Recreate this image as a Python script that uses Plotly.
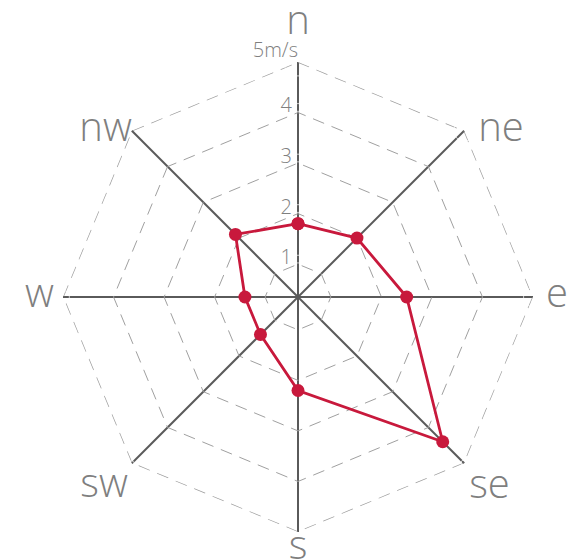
import plotly.graph_objects as go

# Mean wind speed (m/s) by compass direction
directions = ["n", "ne", "e", "se", "s", "sw", "w", "nw"]
speeds = [1.8, 2.0, 2.5, 4.4, 2.2, 1.4, 1.4, 2.1]

# Radial scale
ring_values = [1, 2, 3, 4]
outer_value = 5
ring_labels = ["1", "2", "3", "4", "5m/s"]
r_min = 0.35

# placement of the scale labels beside the north spoke
scale_r = [1.1, 2.1, 3.1, 4.1, 5.0]
scale_pos = ["middle left"] * 4 + ["top left"]
scale_pad = [8, 8, 8, 8, 0]

# placement of the compass names around the outer ring
label_r = [5.0, 5.0, 5.0, 5.0, 4.94, 5.0, 5.0, 5.0]
label_pos = ["top center", "middle right", "middle right", "bottom right",
             "bottom center", "bottom left", "middle left", "middle left"]
label_pad = [28, 20.8, 19, 6.4, 0, 4.8, 12.8, 0]  # invisible marker sizes (text offset)

RED = "#c8193c"
GRID = "#5a5a5a"
RING = "#a0a0a0"
LABEL = "#7f7f7f"
CLEAR = "rgba(0,0,0,0)"

fig = go.Figure()

# outer dashed ring
fig.add_trace(go.Scatterpolar(
    r=[outer_value] * (len(directions) + 1),
    theta=directions + directions[:1],
    mode="lines",
    line=dict(color=RING, width=1.4, dash="12px,8px"),
    hoverinfo="skip",
    showlegend=False,
))

# radial scale labels along the north spoke
fig.add_trace(go.Scatterpolar(
    r=scale_r,
    theta=[directions[0]] * len(scale_r),
    mode="markers+text",
    text=ring_labels,
    textposition=scale_pos,
    marker=dict(size=scale_pad, color=CLEAR),
    textfont=dict(family="Open Sans", size=20, color=LABEL, weight=300),
    cliponaxis=False,
    hoverinfo="skip",
    showlegend=False,
))

# compass direction names
fig.add_trace(go.Scatterpolar(
    r=label_r,
    theta=directions,
    mode="markers+text",
    text=directions,
    textposition=label_pos,
    marker=dict(size=label_pad, color=CLEAR),
    textfont=dict(family="Open Sans", size=40, color=LABEL, weight=300),
    cliponaxis=False,
    hoverinfo="skip",
    showlegend=False,
))

# wind speed polygon
fig.add_trace(go.Scatterpolar(
    r=speeds + speeds[:1],
    theta=directions + directions[:1],
    mode="lines+markers",
    line=dict(color=RED, width=2.8),
    marker=dict(color=RED, size=13),
    showlegend=False,
))

fig.update_layout(
    width=568,
    height=559,
    margin=dict(l=63, r=35, t=62, b=27),
    paper_bgcolor="white",
    plot_bgcolor="white",
    polar=dict(
        bgcolor="white",
        gridshape="linear",
        domain=dict(x=[0, 1], y=[0, 1]),
        radialaxis=dict(
            range=[r_min, outer_value],
            tickvals=ring_values,
            showticklabels=False,
            ticks="",
            showline=False,
            showgrid=True,
            gridcolor=RING,
            gridwidth=1.4,
            griddash="12px,8px",
        ),
        angularaxis=dict(
            categoryorder="array",
            categoryarray=directions,
            rotation=90,
            direction="clockwise",
            showline=False,
            showgrid=True,
            gridcolor=GRID,
            gridwidth=2,
            ticks="",
            showticklabels=False,
        ),
    ),
)

fig.write_html("out.html")
